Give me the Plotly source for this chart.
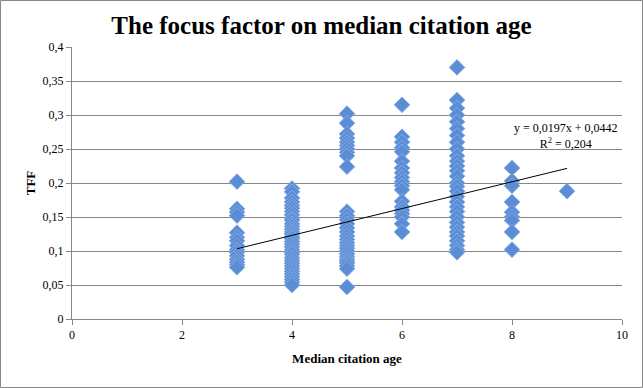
import plotly.graph_objects as go

# ---- data ----
age_3 = [0.202, 0.162, 0.157, 0.152, 0.127, 0.12, 0.115, 0.108, 0.102, 0.098, 0.093, 0.088, 0.084, 0.08, 0.076]
age_4 = [0.192, 0.187, 0.178, 0.172, 0.167, 0.163, 0.158, 0.153, 0.148, 0.145, 0.14, 0.136, 0.132, 0.128,
         0.125, 0.121, 0.118, 0.114, 0.11, 0.106, 0.102, 0.098, 0.095, 0.09, 0.086, 0.082, 0.078, 0.074,
         0.07, 0.066, 0.062, 0.058, 0.054, 0.05]
age_5 = [0.302, 0.288, 0.272, 0.266, 0.26, 0.255, 0.25, 0.245, 0.24, 0.224, 0.158, 0.152, 0.146, 0.14,
         0.134, 0.128, 0.122, 0.117, 0.112, 0.108, 0.104, 0.1, 0.096, 0.092, 0.088, 0.085, 0.082, 0.078,
         0.074, 0.047]
age_6 = [0.315, 0.268, 0.26, 0.252, 0.246, 0.232, 0.222, 0.215, 0.208, 0.202, 0.196, 0.19, 0.173, 0.165,
         0.16, 0.155, 0.15, 0.14, 0.128]
age_7 = [0.37, 0.322, 0.31, 0.3, 0.29, 0.28, 0.27, 0.26, 0.25, 0.24, 0.232, 0.225, 0.218, 0.21, 0.2,
         0.195, 0.188, 0.18, 0.172, 0.165, 0.158, 0.15, 0.142, 0.135, 0.128, 0.122, 0.115, 0.108, 0.102, 0.098]
age_8 = [0.222, 0.203, 0.196, 0.172, 0.157, 0.15, 0.145, 0.128, 0.102]
age_9 = [0.188]

groups = {3: age_3, 4: age_4, 5: age_5, 6: age_6, 7: age_7, 8: age_8, 9: age_9}

trend_slope = 0.0197
trend_intercept = 0.0442
trend_x = [3, 9]

y_tickvals = [0, 0.05, 0.1, 0.15, 0.2, 0.25, 0.3, 0.35, 0.4]
y_ticktext = ["0", "0,05", "0,1", "0,15", "0,2", "0,25", "0,3", "0,35", "0,4"]
x_tickvals = [0, 2, 4, 6, 8, 10]
x_ticktext = ["0", "2", "4", "6", "8", "10"]

xs, ys = [], []
for k, vals in groups.items():
    xs += [k] * len(vals)
    ys += vals

serif = "Liberation Serif, DejaVu Serif, serif"

fig = go.Figure()
fig.add_trace(go.Scatter(
    x=xs, y=ys, mode="markers",
    marker=dict(symbol="diamond", size=12, color="#5A8DD6",
                line=dict(color="#82AAE3", width=1)),
    showlegend=False, hoverinfo="x+y"))
fig.add_trace(go.Scatter(
    x=trend_x, y=[trend_slope * v + trend_intercept for v in trend_x],
    mode="lines", line=dict(color="black", width=1), showlegend=False))

fig.add_annotation(x=8.98, y=0.269, xref="x", yref="y",
                   text="y = 0,0197x + 0,0442<br>R<sup>2</sup> = 0,204",
                   showarrow=False, align="center",
                   font=dict(family=serif, size=12, color="black"))

fig.update_layout(
    width=643, height=388,
    margin=dict(l=72, r=21, t=47, b=69),
    paper_bgcolor="white", plot_bgcolor="white",
    title=dict(text="<b>The focus factor on median citation age</b>",
               x=0.5, xanchor="center", y=0.935, yanchor="middle",
               font=dict(family=serif, size=25, color="black")),
    xaxis=dict(range=[0, 10], tickvals=x_tickvals, ticktext=x_ticktext,
               showgrid=False, zeroline=False, showline=True, linecolor="#868686",
               ticks="outside", ticklen=5, tickcolor="#868686",
               tickfont=dict(family=serif, size=12, color="black"),
               title=dict(text="<b>Median citation age</b>", standoff=12,
                          font=dict(family=serif, size=13, color="black"))),
    yaxis=dict(range=[0, 0.4], tickvals=y_tickvals, ticktext=y_ticktext,
               showgrid=True, gridcolor="#868686", gridwidth=1, zeroline=False,
               showline=True, linecolor="#868686",
               ticks="outside", ticklen=5, tickcolor="#868686",
               tickfont=dict(family=serif, size=12, color="black"),
               title=dict(text="<b>TFF</b>", standoff=4,
                          font=dict(family=serif, size=13, color="black"))),
    shapes=[dict(type="rect", xref="paper", yref="paper",
                 x0=-71.5 / 550, x1=1 + 20.5 / 550, y0=-68.5 / 272, y1=1 + 46.5 / 272,
                 line=dict(color="#868686", width=1))],
)

fig.write_html("out.html", config={"displayModeBar": False})

# remove the browser's default page margin so the figure sits at the window's corner
with open("out.html", "r", encoding="utf-8") as f:
    html = f.read()
html = html.replace("<head>", "<head><style>html,body{margin:0;padding:0;overflow:hidden;}</style>", 1)
with open("out.html", "w", encoding="utf-8") as f:
    f.write(html)
